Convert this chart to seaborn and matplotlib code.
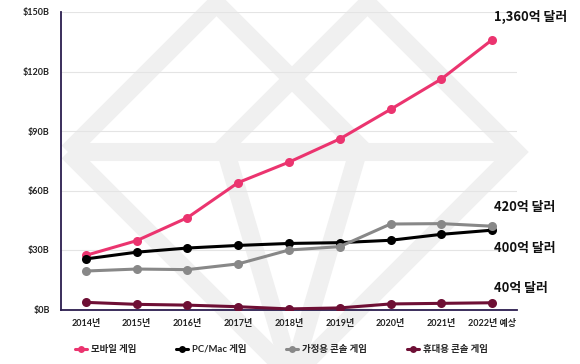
import matplotlib
matplotlib.use("Agg")
import matplotlib.pyplot as plt
import seaborn as sns
import pandas as pd
import numpy as np
from matplotlib.lines import Line2D

years = ["2014년", "2015년", "2016년", "2017년", "2018년", "2019년", "2020년", "2021년", "2022년 예상"]
mobile = [27.3, 34.7, 46.3, 64.0, 74.3, 86.0, 100.9, 116.2, 136.0]
pcmac = [25.5, 28.9, 31.0, 32.3, 33.3, 33.7, 34.9, 37.9, 40.0]
console = [19.4, 20.4, 20.1, 23.0, 30.0, 31.7, 43.1, 43.3, 42.0]
handheld = [3.6, 2.6, 2.2, 1.4, 0.3, 0.8, 2.8, 3.1, 3.4]
series_names = ["모바일 게임", "PC/Mac 게임", "가정용 콘솔 게임", "휴대용 콘솔 게임"]
colors = ["#eb346f", "#000000", "#888888", "#6e0f35"]
y_ticks = [0, 30, 60, 90, 120, 150]
y_ticklabels = ["$0B", "$30B", "$60B", "$90B", "$120B", "$150B"]
end_labels = ["1,360억 달러", "420억 달러", "400억 달러", "40억 달러"]
end_label_y = [147.5, 51.7, 31.0, 10.8]

sns.set_style("white")
plt.rcParams["font.family"] = ["Lato", "Noto Sans CJK KR", "DejaVu Sans"]

rows = []
for name, vals in zip(series_names, [mobile, pcmac, console, handheld]):
    for i, v in enumerate(vals):
        rows.append({"idx": i, "year": years[i], "value": v, "series": name})
df = pd.DataFrame(rows)

fig = plt.figure(figsize=(5.8, 3.64), dpi=100)

# background watermark (gem logo)
bg = fig.add_axes([0, 0, 1, 1], zorder=0)
bg.set_xlim(0, 580)
bg.set_ylim(364, 0)
bg.axis("off")
wm = dict(color="#f0f0f0", lw=13, solid_capstyle="butt", solid_joinstyle="miter")
bg.plot([68, 292, 516, 292, 68], [152, -72, 152, 376, 152], **wm)
bg.plot([68, 516], [152, 152], **wm)
bg.plot([216, 365], [3, 152], **wm)
bg.plot([368, 219], [3, 152], **wm)
bg.plot([226, 292], [152, 376], **wm)
bg.plot([358, 292], [152, 376], **wm)

ax = fig.add_axes([61 / 580, 1 - 309.5 / 364, (517 - 61) / 580, (309.5 - 12) / 364], zorder=1)
ax.set_facecolor("none")

sns.lineplot(data=df, x="idx", y="value", hue="series", hue_order=series_names,
             palette=colors, marker="o", markersize=6.5, markeredgewidth=0,
             linewidth=2.2, ax=ax, legend=False, zorder=3)

ax.set_xlim(-0.49, 8.49)
ax.set_ylim(0, 150)
ax.set_xticks(range(len(years)))
ax.set_xticklabels(years, fontsize=6.5, color="#222222", fontweight="bold")
ax.set_yticks(y_ticks)
ax.set_yticklabels(y_ticklabels, fontsize=6.5, color="#222222", fontweight="bold")
ax.tick_params(axis="both", length=0)
ax.tick_params(axis="x", pad=7)
ax.tick_params(axis="y", pad=8)
ax.set_xlabel("")
ax.set_ylabel("")
ax.grid(axis="y", color="#e4e4e4", lw=0.8, zorder=0)
ax.grid(axis="x", visible=False)
for s in ["top", "right"]:
    ax.spines[s].set_visible(False)
for s in ["left", "bottom"]:
    ax.spines[s].set_color("#2b1d4e")
    ax.spines[s].set_linewidth(1.3)

for lab, yy in zip(end_labels, end_label_y):
    ax.text(8.04, yy, lab, fontsize=9.3, ha="left", va="center", color="#111111",
            clip_on=False, family=["Noto Sans CJK KR", "DejaVu Sans"], fontweight="bold")

handles = [Line2D([0], [0], color=c, lw=2.2, marker="o", markersize=5, markeredgewidth=0) for c in colors]
fig.legend(handles, series_names, loc="center", bbox_to_anchor=(0.485, 0.04), ncol=4,
           frameon=False, handlelength=1.3, handletextpad=0.4,
           columnspacing=4.2, prop={"family": ["Lato", "Noto Sans CJK KR"], "size": 6.8, "weight": "bold"})

fig.savefig("out.png", dpi=100)
